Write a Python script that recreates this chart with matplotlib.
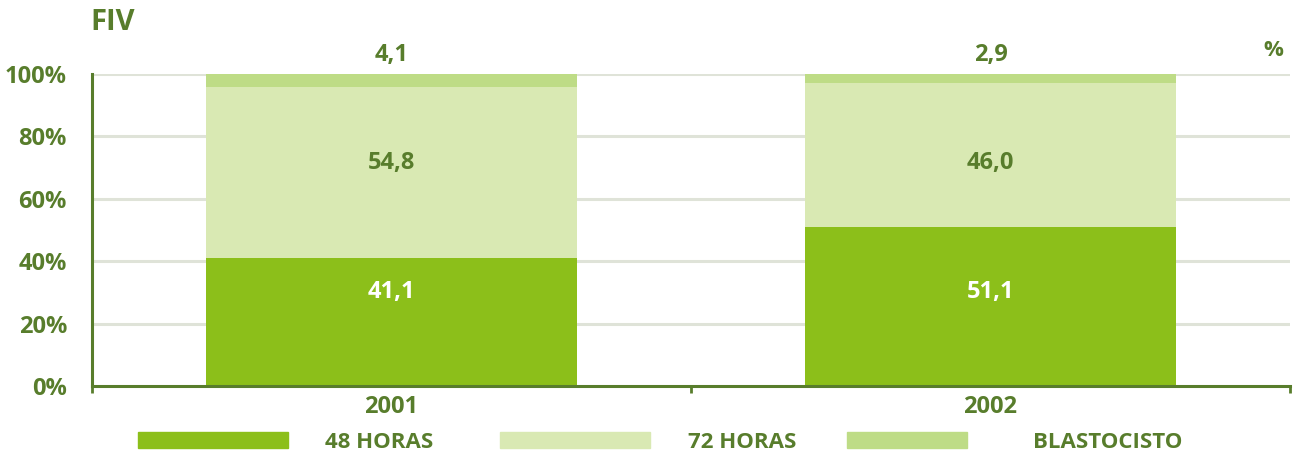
import matplotlib
matplotlib.use("Agg")
import matplotlib.pyplot as plt
from matplotlib.patches import Rectangle

years = ["2001", "2002"]
h48 = [41.1, 51.1]
h72 = [54.8, 46.0]
blasto = [4.1, 2.9]
series_names = ["48 HORAS", "72 HORAS", "BLASTOCISTO"]
yticks = [0, 20, 40, 60, 80, 100]
ytick_labels = ["0%", "20%", "40%", "60%", "80%", "100%"]

c48 = "#8CBF1A"
c72 = "#D9E9B3"
cbl = "#BEDC86"
txt = "#587D2C"
grid = "#DFE3D8"

plt.rcParams['font.family'] = ['Open Sans', 'DejaVu Sans']

W, H = 1297, 457
fig = plt.figure(figsize=(W/100, H/100), dpi=100)
ax = fig.add_axes([92/W, 1-386/H, (1290-92)/W, (386-74)/H])

x = [0, 1]
width = 0.62
ax.bar(x, h48, width, color=c48, zorder=3)
b2 = [a for a in h48]
ax.bar(x, h72, width, bottom=b2, color=c72, zorder=3)
b3 = [a + b for a, b in zip(h48, h72)]
ax.bar(x, blasto, width, bottom=b3, color=cbl, zorder=3)

ax.set_xlim(-0.5, 1.5)
ax.set_ylim(0, 100)
ax.set_yticks(yticks)
ax.set_yticklabels(ytick_labels)
for yv in yticks[1:]:
    ax.axhline(yv, color=grid, lw=2.2, zorder=1)

ax.set_xticks([-0.5, 0.5, 1.5], minor=False)
ax.set_xticklabels(["", "", ""])
ax.tick_params(axis='x', direction='out', length=5, width=2, color=txt)
ax.tick_params(axis='y', length=0, pad=18, labelsize=17, labelcolor=txt)
for lab in ax.get_yticklabels():
    lab.set_fontweight('bold')
for s in ['top', 'right']:
    ax.spines[s].set_visible(False)
for s in ['left', 'bottom']:
    ax.spines[s].set_color(txt)
    ax.spines[s].set_linewidth(2.2)
    ax.spines[s].set_zorder(4)

for i, yr in enumerate(years):
    ax.text(x[i], -3.0, yr, ha='center', va='top', fontsize=17,
            fontweight='bold', color=txt)
    ax.text(x[i], 30, f"{h48[i]:.1f}".replace('.', ','), ha='center', va='center',
            fontsize=17, fontweight='bold', color='white', zorder=5)
    ax.text(x[i], 71.5, f"{h72[i]:.1f}".replace('.', ','), ha='center', va='center',
            fontsize=17, fontweight='bold', color=txt, zorder=5)
    ax.text(x[i], 106, f"{blasto[i]:.1f}".replace('.', ','), ha='center', va='center',
            fontsize=17, fontweight='bold', color=txt, zorder=5)

fig.text(90/W, 1-22/H, "FIV", ha='left', va='center', fontsize=21,
         fontweight='bold', color=txt)
fig.text(1273/W, 1-50/H, "%", ha='center', va='center', fontsize=16,
         fontweight='bold', color=txt)

# legend
leg = [(138, 288, 325, c48), (500, 650, 688, c72), (847, 967, 1033, cbl)]
for (x0, x1, tx, col), name in zip(leg, series_names):
    fig.patches.append(Rectangle((x0/W, 1-448/H), (x1-x0)/W, 16/H,
                                 transform=fig.transFigure, color=col))
    fig.text(tx/W, 1-442/H, name, ha='left', va='center', fontsize=16,
             fontweight='bold', color=txt)

fig.savefig("out.png", dpi=100)
